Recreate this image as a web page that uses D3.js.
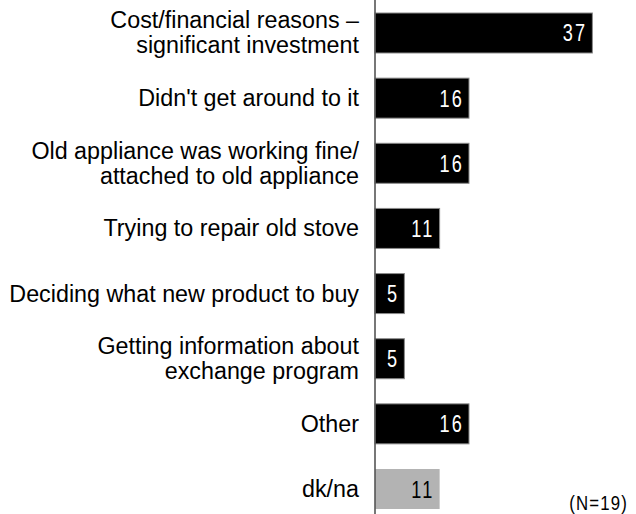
<!DOCTYPE html>
<html>
<head>
<meta charset="utf-8">
<script src="https://cdn.jsdelivr.net/npm/d3@7"></script>
<style>
  html, body { margin: 0; padding: 0; background: #fff; }
  svg { display: block; }
</style>
</head>
<body>
<script>
// Reasons for not yet replacing the old stove (percent of respondents)
const categories = [
  ["Cost/financial reasons \u2013", "significant investment"],
  ["Didn't get around to it"],
  ["Old appliance was working fine/", "attached to old appliance"],
  ["Trying to repair old stove"],
  ["Deciding what new product to buy"],
  ["Getting information about", "exchange program"],
  ["Other"],
  ["dk/na"]
];
const values = [37, 16, 16, 11, 5, 5, 16, 11];
const isNoAnswer = [false, false, false, false, false, false, false, true];
const sampleNote = "(N=19)";

const W = 636, H = 514;
const svg = d3.select("body").append("svg")
  .attr("width", W).attr("height", H);

const keys = categories.map((c, i) => i);

const x = d3.scaleLinear().domain([0, 40]).range([375, 610]);
const y = d3.scaleBand().domain(keys).range([13, 509])
  .paddingInner(0.386).paddingOuter(0);

const rows = svg.append("g").selectAll("g.row")
  .data(keys).join("g").attr("class", "row");

// bars
rows.append("rect")
  .attr("x", x(0))
  .attr("y", i => y(i))
  .attr("width", i => x(values[i]) - x(0))
  .attr("height", y.bandwidth())
  .attr("fill", i => isNoAnswer[i] ? "#b3b3b3" : "#000")
  .attr("stroke", i => isNoAnswer[i] ? "none" : "#8a8a8a")
  .attr("stroke-width", 1);

// value labels inside the bars (condensed figures: regular sans squeezed horizontally)
rows.append("text")
  .attr("transform", i =>
    `translate(${x(values[i]) - 5},${y(i) + y.bandwidth() / 2 + 8.5}) scale(0.74,1)`)
  .attr("text-anchor", "end")
  .attr("font-family", "'Liberation Sans', Arial, sans-serif")
  .attr("font-size", 24.5)
  .attr("letter-spacing", 3)
  .attr("fill", i => isNoAnswer[i] ? "#000" : "#fff")
  .text(i => values[i]);

// category labels, right-aligned against the axis
const lineH = 25;
rows.append("text")
  .attr("text-anchor", "end")
  .attr("font-family", "'Liberation Sans', Arial, sans-serif")
  .attr("font-size", 23.3)
  .attr("fill", "#000")
  .each(function(i) {
    const lines = categories[i];
    const cy = y(i) + y.bandwidth() / 2;
    const first = cy + 8 - (lines.length - 1) * lineH / 2;
    d3.select(this).selectAll("tspan").data(lines).join("tspan")
      .attr("x", 359)
      .attr("y", (d, k) => first + k * lineH)
      .text(d => d);
  });

// vertical axis line
svg.append("line")
  .attr("x1", x(0)).attr("x2", x(0))
  .attr("y1", 0).attr("y2", H)
  .attr("stroke", "#555").attr("stroke-width", 1.6);

// sample size note
svg.append("text")
  .attr("transform", "translate(628,509.5) scale(0.82,1)")
  .attr("text-anchor", "end")
  .attr("font-family", "'Liberation Sans', Arial, sans-serif")
  .attr("font-size", 20.5)
  .attr("letter-spacing", 1.4)
  .attr("fill", "#000")
  .text(sampleNote);
</script>
</body>
</html>
